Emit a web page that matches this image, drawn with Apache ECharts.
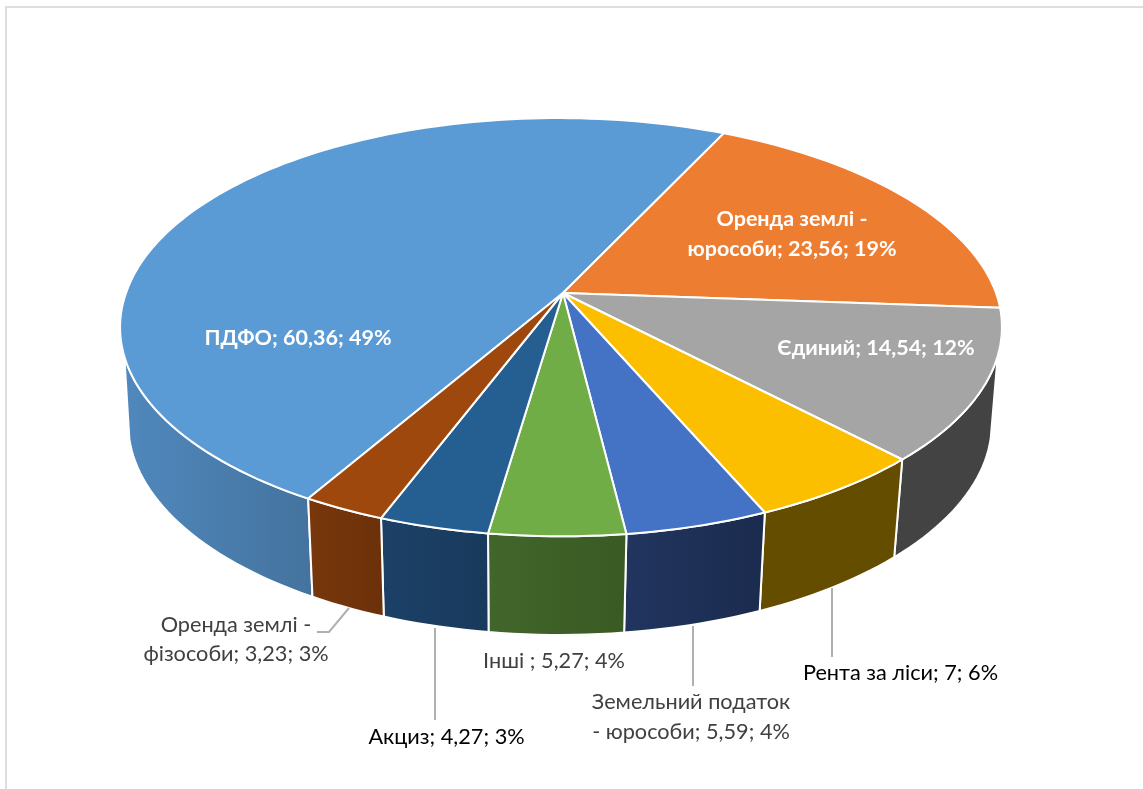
<!DOCTYPE html>
<html><head><meta charset="utf-8">
<style>html,body{margin:0;padding:0;background:#fff}#c{width:1143px;height:789px}</style>
<script src="https://cdn.jsdelivr.net/npm/echarts@6/dist/echarts.min.js"></script>
</head><body><div id="c"></div>
<script>
var categories = ['ПДФО','Оренда землі - юрособи','Єдиний','Рента за ліси','Земельний податок - юрособи','Інші ','Акциз','Оренда землі - фізособи'];
var values = [60.36,23.56,14.54,7,5.59,5.27,4.27,3.23];
var percents = [49,19,12,6,4,4,3,3];
var topColors = ['#5B9BD5','#ED7D31','#A5A5A5','#FBBF00','#4472C4','#70AD47','#255E91','#9E480E'];
var wallLeft  = ['#5088BD','#A85823','#434343','#654D00','#22355F','#41662A','#1C4067','#78370C'];
var wallRight = ['#44739E','#A85823','#434343','#654D00','#1A2B4E','#3A5A24','#183A5C','#6C310A'];
// label lines (text built from the data), placement and colour
var labelLayout = [
 {lines:[{x:298,y:338}],color:'#fff',bold:true},
 {lines:[{x:792,y:219},{x:792,y:249}],split:15,color:'#fff',bold:true},
 {lines:[{x:876,y:348}],color:'#fff',bold:true},
 {lines:[{x:900.5,y:673}],color:'#000'},
 {lines:[{x:691,y:702},{x:691,y:732}],split:18,color:'#404040'},
 {lines:[{x:554,y:661}],color:'#404040'},
 {lines:[{x:446.5,y:737}],color:'#000'},
 {lines:[{x:236,y:625},{x:236,y:654}],split:15,color:'#404040'}
];
var leaders = [[],[],[],[[832,588],[832,657]],[[693,626],[693,686]],[],[[435,628],[435,720]],[[349,608],[329,632],[317,632]]];
var START = 25.6, K = 0.1635, KX = 0.0045, BACK_SKEW = 3;
var TOP = {cx:563,cy:293,b:203.5,r:435}, BOTTOM = {cx:562,cy:388.7,b:206,r:426};
var TOP_LIMIT = 107.2, BOTTOM_LIMIT = 103.5;
var total = values.reduce(function(a,b){return a+b;},0);

function project(plane,deg){
  var t = deg*Math.PI/180, X = Math.sin(t), Y = -Math.cos(t), d = 1-K*Y+KX*X;
  return [plane.cx+plane.r*X/d+BACK_SKEW*Math.min(0,Y), plane.cy+plane.b*Y/d];
}
function arc(plane,a,b){
  var n = Math.max(2,Math.ceil(Math.abs(b-a)/1.5)), p = [];
  for(var i=0;i<=n;i++) p.push(project(plane,a+(b-a)*i/n));
  return p;
}
function sliceRange(i){
  var a = 0; for(var j=0;j<i;j++) a += values[j];
  // PDFO ends at the start angle; slices follow clockwise
  var s = START-values[0]/total*360+a/total*360;
  return [s, s+values[i]/total*360];
}
function wall(i){
  // the near side of the disc is centred on 180 degrees
  var r = sliceRange(i), a = r[0], b = r[1];
  while((a+b)/2<0){a+=360;b+=360;}
  while((a+b)/2>=360){a-=360;b-=360;}
  var ta = Math.max(a,TOP_LIMIT), tb = Math.min(b,360-TOP_LIMIT);
  var ba = Math.max(a,BOTTOM_LIMIT), bb = Math.min(b,360-BOTTOM_LIMIT);
  if(tb<=ta) return null;
  return arc(TOP,ta,tb).concat(arc(BOTTOM,bb,ba));
}
function renderSlice(params){
  var i = params.dataIndex, r = sliceRange(i), kids = [];
  var w = wall(i);
  if(w){
    var xs = w.map(function(p){return p[0];});
    kids.push({type:'polygon',shape:{points:w},z2:1,style:{
      fill:{type:'linear',global:true,x:Math.min.apply(null,xs),y:0,x2:Math.max.apply(null,xs),y2:0,
        colorStops:[{offset:0,color:wallLeft[i]},{offset:1,color:wallRight[i]}]},
      stroke:'#fff',lineWidth:2,lineJoin:'round'}});
  }
  var top = arc(TOP,r[0],r[1]); top.push([TOP.cx,TOP.cy]);
  kids.push({type:'polygon',shape:{points:top},z2:2,style:{fill:topColors[i],stroke:'#fff',lineWidth:2,lineJoin:'round'}});
  return {type:'group',children:kids};
}
function valueText(v){ return String(v).replace('.',','); }
function renderLabel(params){
  var i = params.dataIndex, L = labelLayout[i], kids = [];
  if(leaders[i].length) kids.push({type:'polyline',shape:{points:leaders[i]},style:{fill:'none',stroke:'#B0B0B0',lineWidth:2}});
  var s = categories[i]+'; '+valueText(values[i])+'; '+percents[i]+'%';
  var parts = L.split ? [s.slice(0,L.split-1),s.slice(L.split)] : [s];
  parts.forEach(function(t,k){
    kids.push({type:'text',x:L.lines[k].x,y:L.lines[k].y,style:{text:t,fill:L.color,align:'center',verticalAlign:'middle',
      font:(L.bold?'bold 21.5px ':'21.7px ')+'Lato, "Noto Sans", sans-serif'}});
  });
  return {type:'group',children:kids};
}
var chart = echarts.init(document.getElementById('c'));
chart.setOption({
  animation:false,
  backgroundColor:'#fff',
  graphic:[{type:'polyline',silent:true,shape:{points:[[6,789],[6,7],[1143,7]]},style:{fill:'none',stroke:'#DEDEDE',lineWidth:2}}],
  series:[
    {type:'custom',coordinateSystem:'none',silent:true,data:values,renderItem:renderSlice,z:2},
    {type:'custom',coordinateSystem:'none',silent:true,data:values,renderItem:renderLabel,z:3}
  ]
});
</script></body></html>
